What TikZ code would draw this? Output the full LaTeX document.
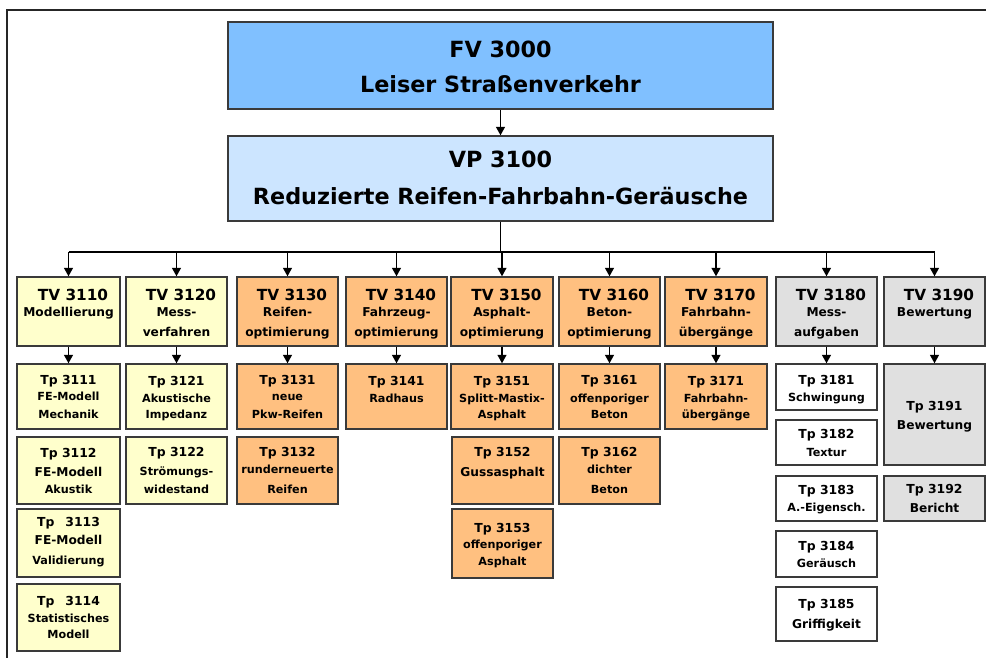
\documentclass[tikz,border=0pt]{standalone}
\usepackage{fontspec}
\setmainfont{DejaVu Sans}
\usetikzlibrary{arrows.meta,fit}
\definecolor{fvblue}{HTML}{80C0FF}
\definecolor{vpblue}{HTML}{CCE5FF}
\definecolor{yel}{HTML}{FFFFCC}
\definecolor{ora}{HTML}{FFC080}
\definecolor{gry}{HTML}{E0E0E0}
\definecolor{boxline}{HTML}{3A3A3A}
\definecolor{txtc}{HTML}{000000}
\newcommand\fbig{\fontsize{22.3bp}{26bp}\selectfont\bfseries}
\newcommand\ftv{\fontsize{15.3bp}{18bp}\selectfont\bfseries}
\newcommand\ftvs{\fontsize{12.2bp}{15bp}\selectfont\bfseries}
\newcommand\ftp{\fontsize{12.4bp}{15bp}\selectfont\bfseries}
\newcommand\fsub{\fontsize{11.2bp}{14bp}\selectfont\bfseries}
\newcommand\fmid{\fontsize{12.2bp}{15bp}\selectfont\bfseries}
\tikzset{
  box/.style={draw=boxline, line width=1.4bp, inner sep=0pt, rectangle},
  conn/.style={line width=1.3bp, draw=black},
  arr/.style={conn, -{Triangle[width=9bp,length=8.5bp]}},
  txt/.style={anchor=base, inner sep=0pt, text=txtc},
  frame/.style={line width=1.6bp, draw=black!85},
}
\newcommand\Bx[6]{\node[box,fill=#2,fit={(#3,#4) (#5,#6)}] (#1) {};}
\newcommand\Tx[5]{\node[txt,font=#2] (#1) at (#3 |- 0,#4) {#5};}
\newcommand\Tt[5]{\node[txt,font=#2,xshift=4.5bp] (#1) at (#3 |- 0,#4) {#5};}
\begin{document}
\begin{tikzpicture}[x=1bp,y=-1bp]
\useasboundingbox (0,0) rectangle (986,658);
% frame
\coordinate (frBL) at (7,658);
\coordinate (frTL) at (7,10);
\coordinate (frTR) at (986,10);
\draw[frame] (frBL) -- (frTL) -- (frTR);
% boxes
\Bx{fv}{fvblue}{228}{22}{773}{109}
\Bx{vp}{vpblue}{228}{136}{773}{221}
\Bx{tv3110}{yel}{17}{277}{120}{346}
\Bx{tv3120}{yel}{126}{277}{227}{346}
\Bx{tv3130}{ora}{237}{277}{338}{346}
\Bx{tv3140}{ora}{346}{277}{447}{346}
\Bx{tv3150}{ora}{451}{277}{553}{346}
\Bx{tv3160}{ora}{559}{277}{660}{346}
\Bx{tv3170}{ora}{665}{277}{767}{346}
\Bx{tv3180}{gry}{776}{277}{877}{346}
\Bx{tv3190}{gry}{884}{277}{985}{346}
\Bx{tp3111}{yel}{17}{364}{120}{429}
\Bx{tp3112}{yel}{17}{437}{120}{504}
\Bx{tp3113}{yel}{17}{509}{120}{577}
\Bx{tp3114}{yel}{17}{584}{120}{651}
\Bx{tp3121}{yel}{126}{364}{227}{429}
\Bx{tp3122}{yel}{126}{437}{227}{504}
\Bx{tp3131}{ora}{237}{364}{338}{429}
\Bx{tp3132}{ora}{237}{437}{338}{504}
\Bx{tp3141}{ora}{346}{364}{447}{429}
\Bx{tp3151}{ora}{451}{364}{553}{429}
\Bx{tp3152}{ora}{452}{437}{553}{504}
\Bx{tp3153}{ora}{452}{509}{553}{578}
\Bx{tp3161}{ora}{559}{364}{660}{429}
\Bx{tp3162}{ora}{559}{437}{660}{504}
\Bx{tp3171}{ora}{665}{364}{767}{429}
\Bx{tp3181}{white}{776}{364}{877}{410}
\Bx{tp3182}{white}{776}{420}{877}{465}
\Bx{tp3183}{white}{776}{476}{877}{521}
\Bx{tp3184}{white}{776}{531}{877}{577}
\Bx{tp3185}{white}{776}{587}{877}{641}
\Bx{tp3191}{gry}{884}{364}{985}{465}
\Bx{tp3192}{gry}{884}{476}{985}{521}
% connectors
\coordinate (bus) at (0,252);
\draw[arr] (fv.south) -- (vp.north);
\draw[conn] (vp.south) -- (vp.south |- bus);
\draw[conn] (tv3110.north |- bus) -- (tv3190.north |- bus);
\foreach \n in {3110,3120,3130,3140,3150,3160,3170,3180,3190}
  \draw[arr] (tv\n.north |- bus) -- (tv\n.north);
\draw[arr] (tv3110.south) -- (tp3111.north);
\draw[arr] (tv3120.south) -- (tp3121.north);
\draw[arr] (tv3130.south) -- (tp3131.north);
\draw[arr] (tv3140.south) -- (tp3141.north);
\draw[arr] (tv3150.south) -- (tp3151.north);
\draw[arr] (tv3160.south) -- (tp3161.north);
\draw[arr] (tv3170.south) -- (tp3171.north);
\draw[arr] (tv3180.south) -- (tp3181.north);
\draw[arr] (tv3190.south) -- (tp3191.north);
% texts
\Tx{fva}{\fbig}{fv.center}{58}{FV 3000}
\Tx{fvb}{\fbig}{fv.center}{93}{Leiser Straßenverkehr}
\Tx{vpa}{\fbig}{vp.center}{168}{VP 3100}
\Tx{vpb}{\fbig}{vp.center}{204}{Reduzierte Reifen-Fahrbahn-Geräusche}
\Tt{tv3110a}{\ftv}{tv3110.center}{300}{TV 3110}
\Tx{tv3110b}{\ftvs}{tv3110.center}{316}{Modellierung}
\Tt{tv3120a}{\ftv}{tv3120.center}{300}{TV 3120}
\Tx{tv3120b}{\ftvs}{tv3120.center}{316}{Mess-}
\Tx{tv3120c}{\ftvs}{tv3120.center}{336}{verfahren}
\Tt{tv3130a}{\ftv}{tv3130.center}{300}{TV 3130}
\Tx{tv3130b}{\ftvs}{tv3130.center}{316}{Reifen-}
\Tx{tv3130c}{\ftvs}{tv3130.center}{336}{optimierung}
\Tt{tv3140a}{\ftv}{tv3140.center}{300}{TV 3140}
\Tx{tv3140b}{\ftvs}{tv3140.center}{316}{Fahrzeug-}
\Tx{tv3140c}{\ftvs}{tv3140.center}{336}{optimierung}
\Tt{tv3150a}{\ftv}{tv3150.center}{300}{TV 3150}
\Tx{tv3150b}{\ftvs}{tv3150.center}{316}{Asphalt-}
\Tx{tv3150c}{\ftvs}{tv3150.center}{336}{optimierung}
\Tt{tv3160a}{\ftv}{tv3160.center}{300}{TV 3160}
\Tx{tv3160b}{\ftvs}{tv3160.center}{316}{Beton-}
\Tx{tv3160c}{\ftvs}{tv3160.center}{336}{optimierung}
\Tt{tv3170a}{\ftv}{tv3170.center}{300}{TV 3170}
\Tx{tv3170b}{\ftvs}{tv3170.center}{316}{Fahrbahn-}
\Tx{tv3170c}{\ftvs}{tv3170.center}{336}{übergänge}
\Tt{tv3180a}{\ftv}{tv3180.center}{300}{TV 3180}
\Tx{tv3180b}{\ftvs}{tv3180.center}{316}{Mess-}
\Tx{tv3180c}{\ftvs}{tv3180.center}{336}{aufgaben}
\Tt{tv3190a}{\ftv}{tv3190.center}{300}{TV 3190}
\Tx{tv3190b}{\ftvs}{tv3190.center}{316}{Bewertung}
% Tp texts
\Tx{tp3111a}{\ftp}{tp3111.center}{384}{Tp 3111}
\Tx{tp3111b}{\fsub}{tp3111.center}{400}{FE-Modell}
\Tx{tp3111c}{\fsub}{tp3111.center}{418}{Mechanik}
\Tx{tp3112a}{\ftp}{tp3112.center}{457}{Tp 3112}
\Tx{tp3112b}{\fmid}{tp3112.center}{476}{FE-Modell}
\Tx{tp3112c}{\fsub}{tp3112.center}{493}{Akustik}
\Tx{tp3113a}{\ftp}{tp3113.center}{526}{Tp\hspace{11bp}3113}
\Tx{tp3113b}{\fmid}{tp3113.center}{544}{FE-Modell}
\Tx{tp3113c}{\fsub}{tp3113.center}{564}{Validierung}
\Tx{tp3114a}{\ftp}{tp3114.center}{605}{Tp\hspace{11bp}3114}
\Tx{tp3114b}{\fsub}{tp3114.center}{622}{Statistisches}
\Tx{tp3114c}{\fsub}{tp3114.center}{638}{Modell}
\Tx{tp3121a}{\ftp}{tp3121.center}{385}{Tp 3121}
\Tx{tp3121b}{\fsub}{tp3121.center}{402}{Akustische}
\Tx{tp3121c}{\fsub}{tp3121.center}{418}{Impedanz}
\Tx{tp3122a}{\ftp}{tp3122.center}{456}{Tp 3122}
\Tx{tp3122b}{\fsub}{tp3122.center}{475}{Strömungs-}
\Tx{tp3122c}{\fsub}{tp3122.center}{493}{widestand}
\Tx{tp3131a}{\ftp}{tp3131.center}{384}{Tp 3131}
\Tx{tp3131b}{\fsub}{tp3131.center}{400}{neue}
\Tx{tp3131c}{\fsub}{tp3131.center}{418}{Pkw-Reifen}
\Tx{tp3132a}{\ftp}{tp3132.center}{456}{Tp 3132}
\Tx{tp3132b}{\fsub}{tp3132.center}{473}{runderneuerte}
\Tx{tp3132c}{\fsub}{tp3132.center}{493}{Reifen}
\Tx{tp3141a}{\ftp}{tp3141.center}{385}{Tp 3141}
\Tx{tp3141b}{\fsub}{tp3141.center}{402}{Radhaus}
\Tx{tp3151a}{\ftp}{tp3151.center}{385}{Tp 3151}
\Tx{tp3151b}{\fsub}{tp3151.center}{402}{Splitt-Mastix-}
\Tx{tp3151c}{\fsub}{tp3151.center}{418}{Asphalt}
\Tx{tp3152a}{\ftp}{tp3152.center}{456}{Tp 3152}
\Tx{tp3152b}{\fmid}{tp3152.center}{476}{Gussasphalt}
\Tx{tp3153a}{\ftp}{tp3153.center}{532}{Tp 3153}
\Tx{tp3153b}{\fsub}{tp3153.center}{548}{offenporiger}
\Tx{tp3153c}{\fsub}{tp3153.center}{565}{Asphalt}
\Tx{tp3161a}{\ftp}{tp3161.center}{384}{Tp 3161}
\Tx{tp3161b}{\fsub}{tp3161.center}{402}{offenporiger}
\Tx{tp3161c}{\fsub}{tp3161.center}{418}{Beton}
\Tx{tp3162a}{\ftp}{tp3162.center}{456}{Tp 3162}
\Tx{tp3162b}{\fsub}{tp3162.center}{473}{dichter}
\Tx{tp3162c}{\fsub}{tp3162.center}{493}{Beton}
\Tx{tp3171a}{\ftp}{tp3171.center}{385}{Tp 3171}
\Tx{tp3171b}{\fsub}{tp3171.center}{402}{Fahrbahn-}
\Tx{tp3171c}{\fsub}{tp3171.center}{418}{übergänge}
\Tx{tp3181a}{\ftp}{tp3181.center}{384}{Tp 3181}
\Tx{tp3181b}{\fsub}{tp3181.center}{401}{Schwingung}
\Tx{tp3182a}{\ftp}{tp3182.center}{438}{Tp 3182}
\Tx{tp3182b}{\fsub}{tp3182.center}{456}{Textur}
\Tx{tp3183a}{\ftp}{tp3183.center}{494}{Tp 3183}
\Tx{tp3183b}{\fsub}{tp3183.center}{511}{A.-Eigensch.}
\Tx{tp3184a}{\ftp}{tp3184.center}{550}{Tp 3184}
\Tx{tp3184b}{\fsub}{tp3184.center}{567}{Geräusch}
\Tx{tp3185a}{\ftp}{tp3185.center}{608}{Tp 3185}
\Tx{tp3185b}{\fmid}{tp3185.center}{628}{Griffigkeit}
\Tx{tp3191a}{\ftp}{tp3191.center}{410}{Tp 3191}
\Tx{tp3191b}{\fmid}{tp3191.center}{429}{Bewertung}
\Tx{tp3192a}{\ftp}{tp3192.center}{493}{Tp 3192}
\Tx{tp3192b}{\fmid}{tp3192.center}{512}{Bericht}
\end{tikzpicture}
\end{document}
